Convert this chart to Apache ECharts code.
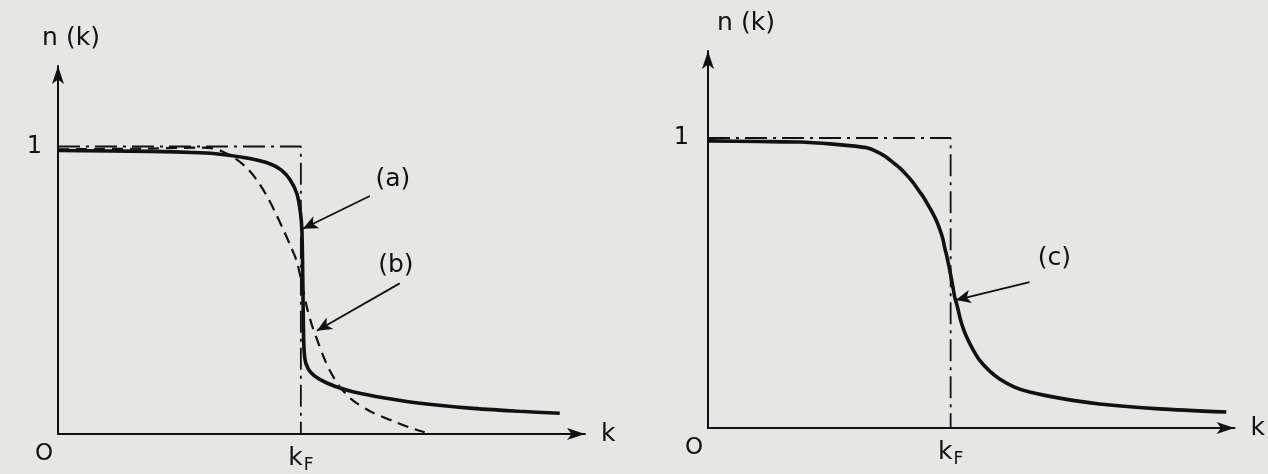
<!DOCTYPE html>
<html>
<head>
<meta charset="utf-8">
<script src="https://cdn.jsdelivr.net/npm/echarts@6/dist/echarts.min.js"></script>
<style>
  html, body { margin: 0; background: #e6e6e4; }
  #chart { width: 1268px; height: 474px; }
</style>
</head>
<body>
<div id="chart"></div>
<script>
// k in units of kF, n(k) in units of 1
const curveA = [
    [0, 0.986], [0.379, 0.983], [0.584, 0.978], [0.667, 0.973], [0.79, 0.958],
    [0.872, 0.94], [0.92, 0.918], [0.955, 0.885], [0.984, 0.835], [0.998, 0.772],
    [1.004, 0.714], [1.007, 0.6], [1.009, 0.472], [1.011, 0.35], [1.014, 0.283],
    [1.021, 0.245], [1.041, 0.214], [1.078, 0.19], [1.14, 0.166], [1.214, 0.147],
    [1.346, 0.125], [1.49, 0.107], [1.695, 0.09], [1.901, 0.079], [2.066, 0.072],
]
const curveB = [
    [0, 0.99], [0.379, 0.993], [0.584, 0.996], [0.64, 0.993], [0.679, 0.982],
    [0.728, 0.96], [0.778, 0.925], [0.82, 0.882], [0.86, 0.828], [0.895, 0.77],
    [0.926, 0.714], [0.957, 0.655], [0.984, 0.598], [1.005, 0.52], [1.025, 0.44],
    [1.045, 0.38], [1.066, 0.33], [1.092, 0.272], [1.119, 0.221], [1.16, 0.165],
    [1.214, 0.117], [1.29, 0.077], [1.379, 0.045], [1.45, 0.022], [1.51, 0.006],
]
const curveC = [
    [0, 0.99], [0.214, 0.988], [0.379, 0.986], [0.514, 0.979], [0.605, 0.972],
    [0.654, 0.966], [0.691, 0.955], [0.728, 0.938], [0.761, 0.917], [0.79, 0.897],
    [0.819, 0.872], [0.844, 0.848], [0.864, 0.824], [0.885, 0.8], [0.905, 0.772],
    [0.926, 0.741], [0.942, 0.714], [0.955, 0.686], [0.967, 0.655], [0.975, 0.624],
    [0.984, 0.593], [0.992, 0.562], [1.0, 0.528], [1.008, 0.493], [1.016, 0.455],
    [1.029, 0.414], [1.041, 0.372], [1.053, 0.341], [1.066, 0.314], [1.091, 0.272],
    [1.119, 0.234], [1.16, 0.197], [1.202, 0.169], [1.263, 0.141], [1.325, 0.124],
    [1.449, 0.103], [1.613, 0.083], [1.86, 0.066], [2.136, 0.055],
]
const stepT0 = [[0, 1], [1, 1], [1, 0]]

const arrowA = [[1.284, 0.828], [1.008, 0.714]]
const arrowB = [[1.407, 0.524], [1.066, 0.359]]
const arrowC = [[1.325, 0.503], [1.021, 0.441]]
const labelsLeft = [[1.379, 0.886, "(a)"], [1.391, 0.586, "(b)"]]
const labelsRight = [[1.428, 0.586, "(c)"]]

const xTicks = [0, 1]
const yTicks = [1]

const ink = "#111"
const font = "DejaVu Sans"

const chart = echarts.init(document.getElementById("chart"))

const makeX = (idx) => ({
    type: "value",
    gridIndex: idx,
    min: 0,
    max: 2.17,
    name: "k",
    nameLocation: "end",
    nameGap: 16,
    nameTextStyle: { color: ink, fontSize: 25, fontFamily: font },
    axisLine: {
        lineStyle: { color: ink, width: 2 },
        symbol: ["none", "arrow"],
        symbolSize: [9, 18],
    },
    axisTick: { show: false },
    splitLine: { show: false },
    axisLabel: {
        customValues: xTicks,
        margin: 9,
        color: ink,
        fontFamily: font,
        formatter: (v) => (v === 0 ? "{o|O}" : "{k|k}{sub|F}"),
        rich: {
            o: { fontSize: 23, padding: [0, 28, 0, 0], fontFamily: font, color: ink },
            k: { fontSize: 25, fontFamily: font, color: ink },
            sub: { fontSize: 17, padding: [14, 0, 0, 1], fontFamily: font, color: ink },
        },
    },
})

const makeY = (idx, max, pad, margin) => ({
    type: "value",
    gridIndex: idx,
    min: 0,
    max: max,
    name: "n (k)",
    nameLocation: "end",
    nameGap: 15,
    nameTextStyle: { color: ink, fontSize: 25, fontFamily: font, padding: [0, 0, 0, pad] },
    axisLine: {
        lineStyle: { color: ink, width: 2 },
        symbol: ["none", "arrow"],
        symbolSize: [9, 18],
    },
    axisTick: { show: false },
    splitLine: { show: false },
    axisLabel: {
        customValues: yTicks,
        margin: margin,
        color: ink,
        fontSize: 24,
        fontFamily: font,
    },
})

const curve = (data, idx, type, width, smooth) => ({
    type: "line",
    xAxisIndex: idx,
    yAxisIndex: idx,
    data: data,
    showSymbol: false,
    smooth: smooth,
    lineStyle: { color: ink, width: width, type: type },
    silent: true,
    z: 3,
})

const arrow = (pts, idx) => ({
    type: "line",
    xAxisIndex: idx,
    yAxisIndex: idx,
    data: [],
    silent: true,
    markLine: {
        silent: true,
        symbol: ["none", "arrow"],
        symbolSize: [10, 15],
        label: { show: false },
        lineStyle: { color: ink, width: 1.8, type: "solid" },
        data: [[{ coord: pts[0] }, { coord: pts[1] }]],
    },
})

const labels = (data, idx) => ({
    type: "scatter",
    xAxisIndex: idx,
    yAxisIndex: idx,
    data: data,
    symbolSize: 0,
    itemStyle: { color: ink },
    silent: true,
    label: {
        show: true,
        position: "inside",
        formatter: (p) => p.value[2],
        color: ink,
        opacity: 1,
        fontSize: 25,
        fontFamily: font,
    },
})

const dashDot = [22, 6, 3, 6]

chart.setOption({
    backgroundColor: "#e6e6e4",
    animation: false,
    grid: [
        { left: 58, top: 66, width: 527, height: 371 },
        { left: 708, top: 51, width: 527, height: 377 },
    ],
    xAxis: [makeX(0), makeX(1)],
    yAxis: [makeY(0, 1.28, 26, 16), makeY(1, 1.3, 76, 19)],
    series: [
        curve(stepT0, 0, dashDot, 1.8, false),
        curve(curveB, 0, [11, 7], 2.2, 0.3),
        curve(curveA, 0, "solid", 3.6, 0.3),
        arrow(arrowA, 0),
        arrow(arrowB, 0),
        labels(labelsLeft, 0),
        curve(stepT0, 1, dashDot, 1.8, false),
        curve(curveC, 1, "solid", 3.6, 0.25),
        arrow(arrowC, 1),
        labels(labelsRight, 1),
    ],
})
</script>
</body>
</html>
